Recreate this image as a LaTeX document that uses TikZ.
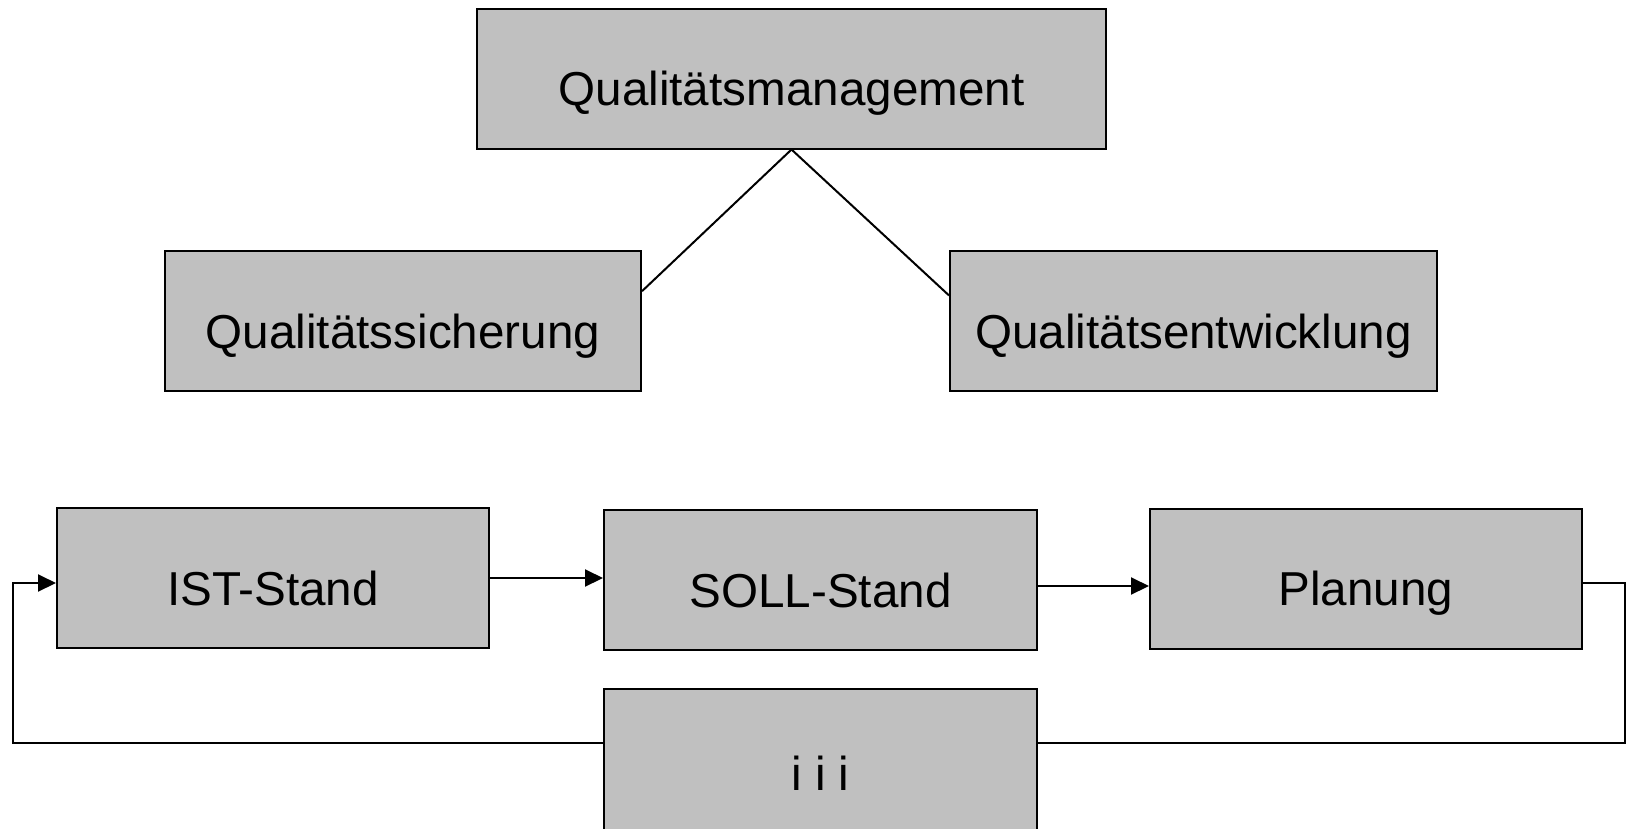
\documentclass[tikz,border=0pt]{standalone}
\usepackage{fontspec}
\setmainfont{Liberation Sans}
\usetikzlibrary{arrows.meta,calc}
\definecolor{boxgray}{RGB}{192,192,192}
\tikzset{
  box/.style={draw=black, line width=2pt, fill=boxgray, inner sep=0pt,
    minimum height=140pt, text height=54pt, text depth=0pt,
    font=\fontsize{47.6}{57}\selectfont},
  link/.style={draw=black, line width=2pt},
  arr/.style={link, -{Triangle[length=18pt,width=17pt]}}
}
\begin{document}
\begin{tikzpicture}[x=1pt,y=-1pt]
\useasboundingbox (0,0) rectangle (1632,828);
% hierarchy
\node[box, minimum width=629pt] (qm) at (791.5,78.5) {Qualitätsmanagement};
\node[box, minimum width=476pt] (qs) at (403,321) {Qualitätssicherung};
\node[box, minimum width=487pt] (qe) at (1193.5,321) {Qualitätsentwicklung};
\draw[link] (qm.south) -- ($(qs.north east)!0.29!(qs.south east)$);
\draw[link] (qm.south) -- ($(qe.north west)!0.32!(qe.south west)$);
% cycle
\node[box, minimum width=432pt] (ist) at (273,578) {IST-Stand};
\node[box, minimum width=433pt] (soll) at (820.5,580) {SOLL-Stand};
\node[box, minimum width=432pt] (plan) at (1366,578.5) {Planung};
\node[box, minimum width=433pt, minimum height=148pt] (iii) at (820.5,763) {i i i};
\coordinate (lt) at (13,583);
\coordinate (lb) at (13,743);
\coordinate (rt) at (1625,583);
\coordinate (rb) at (1625,743);
\draw[arr] (ist.east) -- (ist.east -| soll.west);
\draw[arr] ([yshift=-6pt]soll.east) -- ([yshift=-6pt]soll.east -| plan.west);
\draw[link] (plan.east |- rt) -- (rt) -- (rb) -- (iii.east |- rb);
\draw[arr] (iii.west |- lb) -- (lb) -- (lt) -- (ist.west |- lt);
\end{tikzpicture}
\end{document}
